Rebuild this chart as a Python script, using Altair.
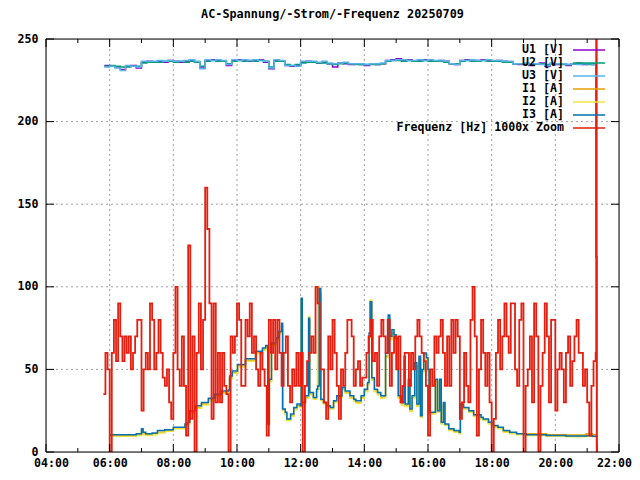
import altair as alt
import pandas as pd

DAY = "2025-07-09"
TITLE = "AC-Spannung/-Strom/-Frequenz 20250709"
FONT = "DejaVu Sans Mono"
FS = 11.6

SERIES = ["U1 [V]", "U2 [V]", "U3 [V]", "I1 [A]", "I2 [A]", "I3 [A]",
          "Frequenz [Hz] 1000x Zoom"]
COLORS = ["#9400d3", "#009e73", "#56b4e9", "#e69f00", "#f0e442", "#0072b2",
          "#e51e10"]

Y_TICKS = [0, 50, 100, 150, 200, 250]
Y_GRID = [50, 100, 150, 200]
X_MAJOR_H = [4, 6, 8, 10, 12, 14, 16, 18, 20, 22]
X_GRID_H = [6, 8, 10, 12, 14, 16, 18, 20]
X_MINOR_H = [5, 7, 9, 11, 13, 15, 17, 19, 21]

# voltages, every 10 min from 05:50
U_START, U_STEP = "05:50", 10
U1 = [234.0, 233.5, 233.0, 231.5, 233.5, 234.0, 232.5, 236.0, 236.5, 236.0,
      236.5, 236.0, 237.0, 236.5, 236.0, 236.5, 237.0, 236.0, 232.5, 237.0,
      237.5, 237.0, 236.5, 234.0, 237.0, 237.5, 237.0, 236.5, 237.0, 237.5,
      236.0, 232.0, 237.0, 236.5, 234.0, 233.5, 234.0, 236.0, 236.5, 236.0,
      235.5, 236.0, 235.0, 233.0, 235.5, 235.0, 234.5, 235.0, 234.5, 234.0,
      235.0, 234.5, 235.0, 237.0, 237.5, 238.0, 237.0, 237.5, 236.5, 237.0,
      237.5, 237.0, 236.5, 237.0, 236.5, 235.0, 234.5, 237.0, 237.5, 236.5,
      237.0, 237.5, 237.0, 236.5, 237.0, 236.5, 236.0, 235.0, 234.5, 235.0,
      234.0, 235.0, 235.5, 233.5, 235.0, 234.5, 235.0, 234.0, 235.0, 235.5,
      234.5, 235.0, 234.5]
U2 = [233.5, 234.0, 233.5, 233.0, 233.0, 233.5, 233.5, 235.5, 236.0, 236.0,
      236.0, 236.5, 236.5, 236.0, 236.5, 236.0, 236.5, 236.0, 233.5, 236.5,
      237.0, 236.5, 236.5, 235.0, 236.5, 237.0, 236.5, 237.0, 236.5, 237.0,
      236.5, 233.0, 236.5, 236.5, 234.5, 234.0, 234.5, 235.5, 236.0, 236.0,
      235.5, 235.5, 235.0, 234.5, 235.0, 235.5, 235.0, 234.5, 234.5, 234.5,
      234.5, 234.5, 235.0, 236.5, 237.0, 237.0, 236.5, 237.0, 236.5, 236.5,
      237.0, 236.5, 236.5, 236.5, 236.0, 235.0, 235.0, 236.5, 237.0, 236.5,
      236.5, 237.0, 236.5, 236.5, 236.5, 236.0, 236.0, 235.0, 235.0, 235.0,
      234.5, 235.0, 235.0, 234.5, 235.0, 235.0, 234.5, 234.5, 235.0, 235.0,
      235.0, 234.5, 235.0]
U3 = [233.0, 233.5, 232.5, 231.0, 234.0, 233.5, 233.0, 236.5, 236.5, 236.5,
      237.0, 236.5, 237.0, 236.5, 236.5, 237.0, 237.5, 236.5, 232.0, 237.5,
      237.0, 237.5, 237.0, 234.5, 237.5, 237.0, 237.5, 237.0, 237.5, 237.0,
      236.5, 232.5, 237.5, 237.0, 234.0, 234.0, 233.5, 236.5, 236.5, 236.5,
      236.0, 236.5, 235.5, 235.0, 235.5, 236.0, 235.0, 235.0, 235.0, 234.5,
      235.0, 235.0, 235.5, 237.0, 237.0, 237.5, 237.5, 237.0, 237.0, 237.5,
      237.0, 237.5, 237.0, 237.0, 236.5, 235.0, 234.5, 237.0, 237.0, 237.5,
      237.0, 237.0, 237.5, 237.0, 237.0, 236.5, 236.5, 235.0, 235.0, 235.5,
      234.5, 235.0, 234.5, 234.0, 235.5, 235.0, 235.0, 234.5, 235.0, 234.5,
      235.0, 235.0, 234.5]
U_END_TIMES = ["21:17", "21:19"]
U1_END = [118, 2]
U2_END = [118, 0]
U3_END = [118, 0]

# currents
I_TIMES = ["06:00", "06:30", "06:50", "07:00", "07:03", "07:08", "07:20", "07:30",
           "07:44", "08:00", "08:22", "08:28", "08:31", "08:41", "08:53", "09:06",
           "09:18", "09:30", "09:44", "09:46", "09:51", "10:01", "10:16", "10:35",
           "10:48", "10:54", "10:58", "11:01", "11:05", "11:13", "11:19", "11:24",
           "11:26", "11:31", "11:34", "11:41", "11:47", "11:53", "11:59", "12:01",
           "12:03", "12:09", "12:15", "12:17", "12:24", "12:30", "12:32", "12:35",
           "12:38", "12:43", "12:49", "12:56", "13:02", "13:08", "13:18", "13:24",
           "13:33", "13:40", "13:44", "13:54", "14:00", "14:06", "14:09", "14:11",
           "14:14", "14:19", "14:25", "14:31", "14:37", "14:40", "14:45", "14:48",
           "14:52", "14:56", "15:00", "15:04", "15:10", "15:15", "15:17", "15:23",
           "15:26", "15:30", "15:35", "15:39", "15:43", "15:46", "15:49", "15:52",
           "15:57", "16:00", "16:02", "16:11", "16:14", "16:18", "16:22", "16:25",
           "16:29", "16:32", "16:39", "16:49", "16:59", "17:01", "17:07", "17:17",
           "17:26", "17:40", "17:44", "17:54", "18:03", "18:12", "18:22", "18:34",
           "18:47", "19:05", "19:43", "20:20", "20:58", "21:10", "21:16", "21:18",
           "21:19"]
I3 = [10.5, 10.5, 11.0, 14.0, 12.0, 11.0, 11.5, 13.0,
      13.5, 15.0, 17.0, 18.0, 25.0, 28.0, 30.0, 32.5,
      35.0, 37.0, 37.5, 46.0, 49.0, 53.0, 56.5, 61.0,
      63.0, 64.5, 17.0, 44.0, 66.0, 69.0, 73.0, 78.0,
      26.0, 24.0, 20.0, 23.0, 27.0, 29.0, 28.0, 93.0,
      30.0, 34.0, 81.0, 36.0, 33.0, 38.0, 40.0, 99.0,
      32.0, 30.0, 28.0, 27.0, 31.0, 34.0, 39.0, 37.0,
      34.0, 32.0, 31.0, 34.0, 38.0, 42.0, 72.0, 91.0,
      45.0, 38.0, 36.0, 34.0, 34.0, 60.0, 83.0, 70.0,
      74.0, 71.0, 69.0, 34.0, 30.0, 58.0, 29.0, 44.0,
      26.0, 34.0, 54.0, 29.0, 58.0, 22.0, 50.0, 60.0,
      57.0, 50.0, 24.0, 24.0, 44.0, 25.0, 44.0, 18.0,
      30.0, 17.0, 14.0, 13.0, 12.0, 29.0, 27.0, 25.0,
      22.5, 21.0, 20.0, 18.0, 16.0, 15.0, 13.0, 12.0,
      11.0, 10.5, 10.0, 9.7, 9.8, 9.5, 9.5, 4.0,
      0.0]
I1 = [10.0, 10.0, 10.5, 13.0, 11.0, 10.5, 11.0, 12.0,
      13.0, 14.5, 16.5, 17.5, 24.0, 27.0, 29.0, 31.5,
      34.0, 36.0, 36.5, 45.0, 48.0, 52.0, 55.5, 60.0,
      62.0, 63.5, 17.0, 43.0, 65.0, 68.0, 72.0, 76.0,
      25.5, 23.0, 19.5, 22.0, 26.0, 28.0, 27.5, 92.0,
      29.5, 33.0, 80.0, 35.0, 32.5, 37.0, 70.0, 96.0,
      31.5, 29.5, 27.5, 26.5, 30.5, 33.5, 38.0, 36.0,
      33.0, 31.0, 30.0, 33.0, 37.0, 41.0, 70.0, 90.0,
      44.0, 37.0, 35.0, 33.0, 33.5, 58.0, 78.0, 69.0,
      72.0, 70.0, 68.0, 33.0, 29.0, 55.0, 28.0, 43.0,
      25.0, 33.0, 52.0, 28.0, 56.0, 21.5, 49.0, 59.0,
      56.0, 49.0, 23.5, 23.5, 43.0, 24.5, 43.0, 17.5,
      29.0, 16.5, 13.5, 12.5, 11.5, 28.5, 26.5, 24.5,
      22.0, 20.5, 19.5, 17.5, 15.5, 14.5, 12.5, 11.5,
      11.0, 11.0, 10.5, 10.3, 11.0, 10.5, 10.0, 4.0,
      0.0]
I2 = [9.5, 9.5, 10.0, 12.5, 10.5, 10.0, 10.5, 11.5,
      12.5, 14.0, 16.0, 17.0, 23.5, 26.5, 28.5, 31.0,
      33.5, 35.5, 36.0, 44.5, 47.5, 51.5, 55.0, 59.5,
      61.5, 63.0, 16.5, 42.5, 64.5, 67.5, 71.5, 75.0,
      25.0, 22.5, 19.0, 21.5, 25.5, 27.5, 27.0, 92.0,
      29.0, 32.5, 82.0, 34.5, 32.0, 36.5, 100.0, 38.0,
      31.0, 29.0, 27.0, 26.0, 30.0, 33.0, 37.5, 35.5,
      32.5, 30.5, 29.5, 32.5, 36.5, 40.5, 69.0, 92.0,
      43.5, 36.5, 34.5, 32.5, 33.0, 57.0, 76.0, 68.0,
      71.0, 69.0, 67.0, 32.5, 28.5, 54.0, 27.5, 42.0,
      24.5, 32.5, 51.0, 27.5, 55.0, 21.0, 48.0, 58.0,
      55.0, 48.0, 23.0, 23.0, 42.0, 24.0, 42.0, 17.0,
      28.5, 16.0, 13.0, 12.0, 11.0, 28.0, 26.0, 24.0,
      21.5, 20.0, 19.0, 17.0, 15.0, 14.0, 12.0, 11.0,
      10.5, 10.0, 9.5, 9.2, 9.5, 9.2, 9.2, 4.0,
      0.0]

# frequency (zoomed), every 4 min from 05:48
F_START, F_STEP = "05:48", 4
FREQ = [35, 60, 50,
        0, 60, 80, 55, 90, 70, 55, 70, 60, 70, 50, 60, 70, 80, 80,
        25, 50, 60, 50, 90, 80, 50, 60, 80, 60, 45, 40, 50, 30, 20,
        60, 100, 50, 40, 70, 40, 10, 125, 20, 70, 0, 60, 90, 50, 80,
        160, 135, 90, 20, 90, 30, 60, 30, 60, 40, 35, 0, 70, 60, 70,
        90, 80, 40, 40, 80, 70, 90, 60, 70, 50, 40, 60, 50, 40, 10,
        80, 60, 80, 50, 80, 60, 40, 60, 70, 40, 30, 50, 40, 60, 40,
        60, 0, 40, 55, 60, 70, 60, 100, 90, 50, 50, 30, 20, 70, 50,
        80, 60, 40, 20, 50, 40, 60, 80, 80, 70, 40, 50, 55, 40, 45, 45,
        60, 70, 80, 55, 60, 40, 70, 80, 70, 60, 80, 40, 60, 70, 50,
        70, 30, 40, 60, 60, 40, 60, 50, 70, 80, 70, 60, 55, 40, 10,
        50, 40, 70, 60, 70, 80, 60, 40, 70, 40, 80, 60, 80, 70, 20,
        30, 60, 40, 30, 80, 100, 70, 10, 50, 80, 60, 40, 60, 30, 0,
        20, 60, 80, 50, 70, 90, 70, 60, 90, 90, 50, 40, 80, 90, 0,
        40, 50, 70, 30, 90, 70, 0, 40, 60, 90, 70, 30, 80, 80, 25,
        50, 60, 50, 30, 60, 70, 40, 55, 70, 80, 60, 60, 40, 50, 30,
        10, 40, 55, 60]
F_END_TIMES = ["21:17", "21:18"]
F_END = [400, -50]


def ts(hm):
    return pd.Timestamp(f"{DAY} {hm}")


def grid_frame(start, step, vals, end_times, end_vals):
    t0 = ts(start)
    times = [t0 + pd.Timedelta(minutes=step * i) for i in range(len(vals))]
    times += [ts(x) for x in end_times]
    return pd.DataFrame({"t": times, "v": list(vals) + list(end_vals)})


def list_frame(times, vals):
    n = min(len(times), len(vals))
    return pd.DataFrame({"t": [ts(x) for x in times[:n]], "v": list(vals[:n])})


frames = [
    grid_frame(U_START, U_STEP, U1, U_END_TIMES, U1_END),
    grid_frame(U_START, U_STEP, U2, U_END_TIMES, U2_END),
    grid_frame(U_START, U_STEP, U3, U_END_TIMES, U3_END),
    list_frame(I_TIMES, I1),
    list_frame(I_TIMES, I2),
    list_frame(I_TIMES, I3),
    grid_frame(F_START, F_STEP, FREQ, F_END_TIMES, F_END),
]

W, H = 573, 413


def dt(h):
    return alt.DateTime(year=2025, month=7, date=9, hours=h)


xscale = alt.Scale(domain=[dt(4), dt(22)])
yscale = alt.Scale(domain=[0, 250], nice=False, zero=False)

xaxis = alt.Axis(values=[dt(h) for h in X_MAJOR_H], format="%H:%M",
                 labelFont=FONT, labelFontSize=FS, labelFontWeight="bold",
                 labelColor="black", ticks=False, domain=False, grid=False,
                 title=None, labelPadding=5, labelFlush=True,
                 labelFlushOffset=12.5, labelOverlap=False)
yaxis = alt.Axis(values=Y_TICKS, labelFont=FONT, labelFontSize=FS,
                 labelFontWeight="bold", labelColor="black", ticks=False,
                 domain=False, grid=False, title=None, labelPadding=8)

X = alt.X("t:T", scale=xscale, axis=xaxis)
Y = alt.Y("v:Q", scale=yscale, axis=yaxis)

layers = []

# grid
xg = pd.DataFrame({"t": [ts(f"{h:02d}:00") for h in X_GRID_H]})
yg = pd.DataFrame({"v": Y_GRID})
layers.append(alt.Chart(xg).mark_rule(color="#a0a0a0", strokeWidth=1,
                                      strokeDash=[2, 3])
              .encode(x=X, y=alt.value(0), y2=alt.value(H)))
layers.append(alt.Chart(yg).mark_rule(color="#a0a0a0", strokeWidth=1,
                                      strokeDash=[2, 3])
              .encode(y=Y, x=alt.value(0), x2=alt.value(W)))

# data lines
for df, col in zip(frames, COLORS):
    sw = 1.8 if col == "#e51e10" else 1.5
    layers.append(alt.Chart(df).mark_line(color=col, strokeWidth=sw,
                                          interpolate="step-after", clip=True)
                  .encode(x=X, y=Y))

# legend (gnuplot style: label then sample)
for i, (name, col) in enumerate(zip(SERIES, COLORS)):
    yy = 11 + 13 * i
    layers.append(alt.Chart(pd.DataFrame({"label": [name]}))
                  .mark_text(align="right", baseline="middle", font=FONT,
                             fontSize=FS, fontWeight="bold", color="black")
                  .encode(text="label:N", x=alt.value(518), y=alt.value(yy)))
    layers.append(alt.Chart(pd.DataFrame({"label": [name]}))
                  .mark_rule(color=col, strokeWidth=1.5)
                  .encode(x=alt.value(527), x2=alt.value(559), y=alt.value(yy)))

# ticks (inward, mirrored)
xmaj = pd.DataFrame({"t": [ts(f"{h:02d}:00") for h in X_MAJOR_H]})
xmin = pd.DataFrame({"t": [ts(f"{h:02d}:00") for h in X_MINOR_H]})
ytk = pd.DataFrame({"v": Y_TICKS})
for d, ln in [(xmaj, 8), (xmin, 4)]:
    layers.append(alt.Chart(d).mark_rule(color="black", strokeWidth=1)
                  .encode(x=X, y=alt.value(H), y2=alt.value(H - ln)))
    layers.append(alt.Chart(d).mark_rule(color="black", strokeWidth=1)
                  .encode(x=X, y=alt.value(0), y2=alt.value(ln)))
layers.append(alt.Chart(ytk).mark_rule(color="black", strokeWidth=1)
              .encode(y=Y, x=alt.value(0), x2=alt.value(8)))
layers.append(alt.Chart(ytk).mark_rule(color="black", strokeWidth=1)
              .encode(y=Y, x=alt.value(W - 8), x2=alt.value(W)))

# border
layers.append(alt.Chart(pd.DataFrame({"b": [1]}))
              .mark_rect(filled=False, stroke="black", strokeWidth=1)
              .encode(x=alt.value(0), x2=alt.value(W), y=alt.value(0),
                      y2=alt.value(H)))

chart = (alt.layer(*layers)
         .properties(width=W, height=H,
                     autosize=alt.AutoSizeParams(type="none"),
                     padding={"left": 38, "top": 31, "right": 13, "bottom": 18},
                     title=alt.TitleParams(TITLE, font=FONT, fontSize=11.8,
                                           fontWeight="bold", color="black",
                                           anchor="middle", offset=12))
         .configure_view(stroke=None)
         .configure(background="white"))

chart.save("out.html", embed_options={"renderer": "svg", "actions": False})
